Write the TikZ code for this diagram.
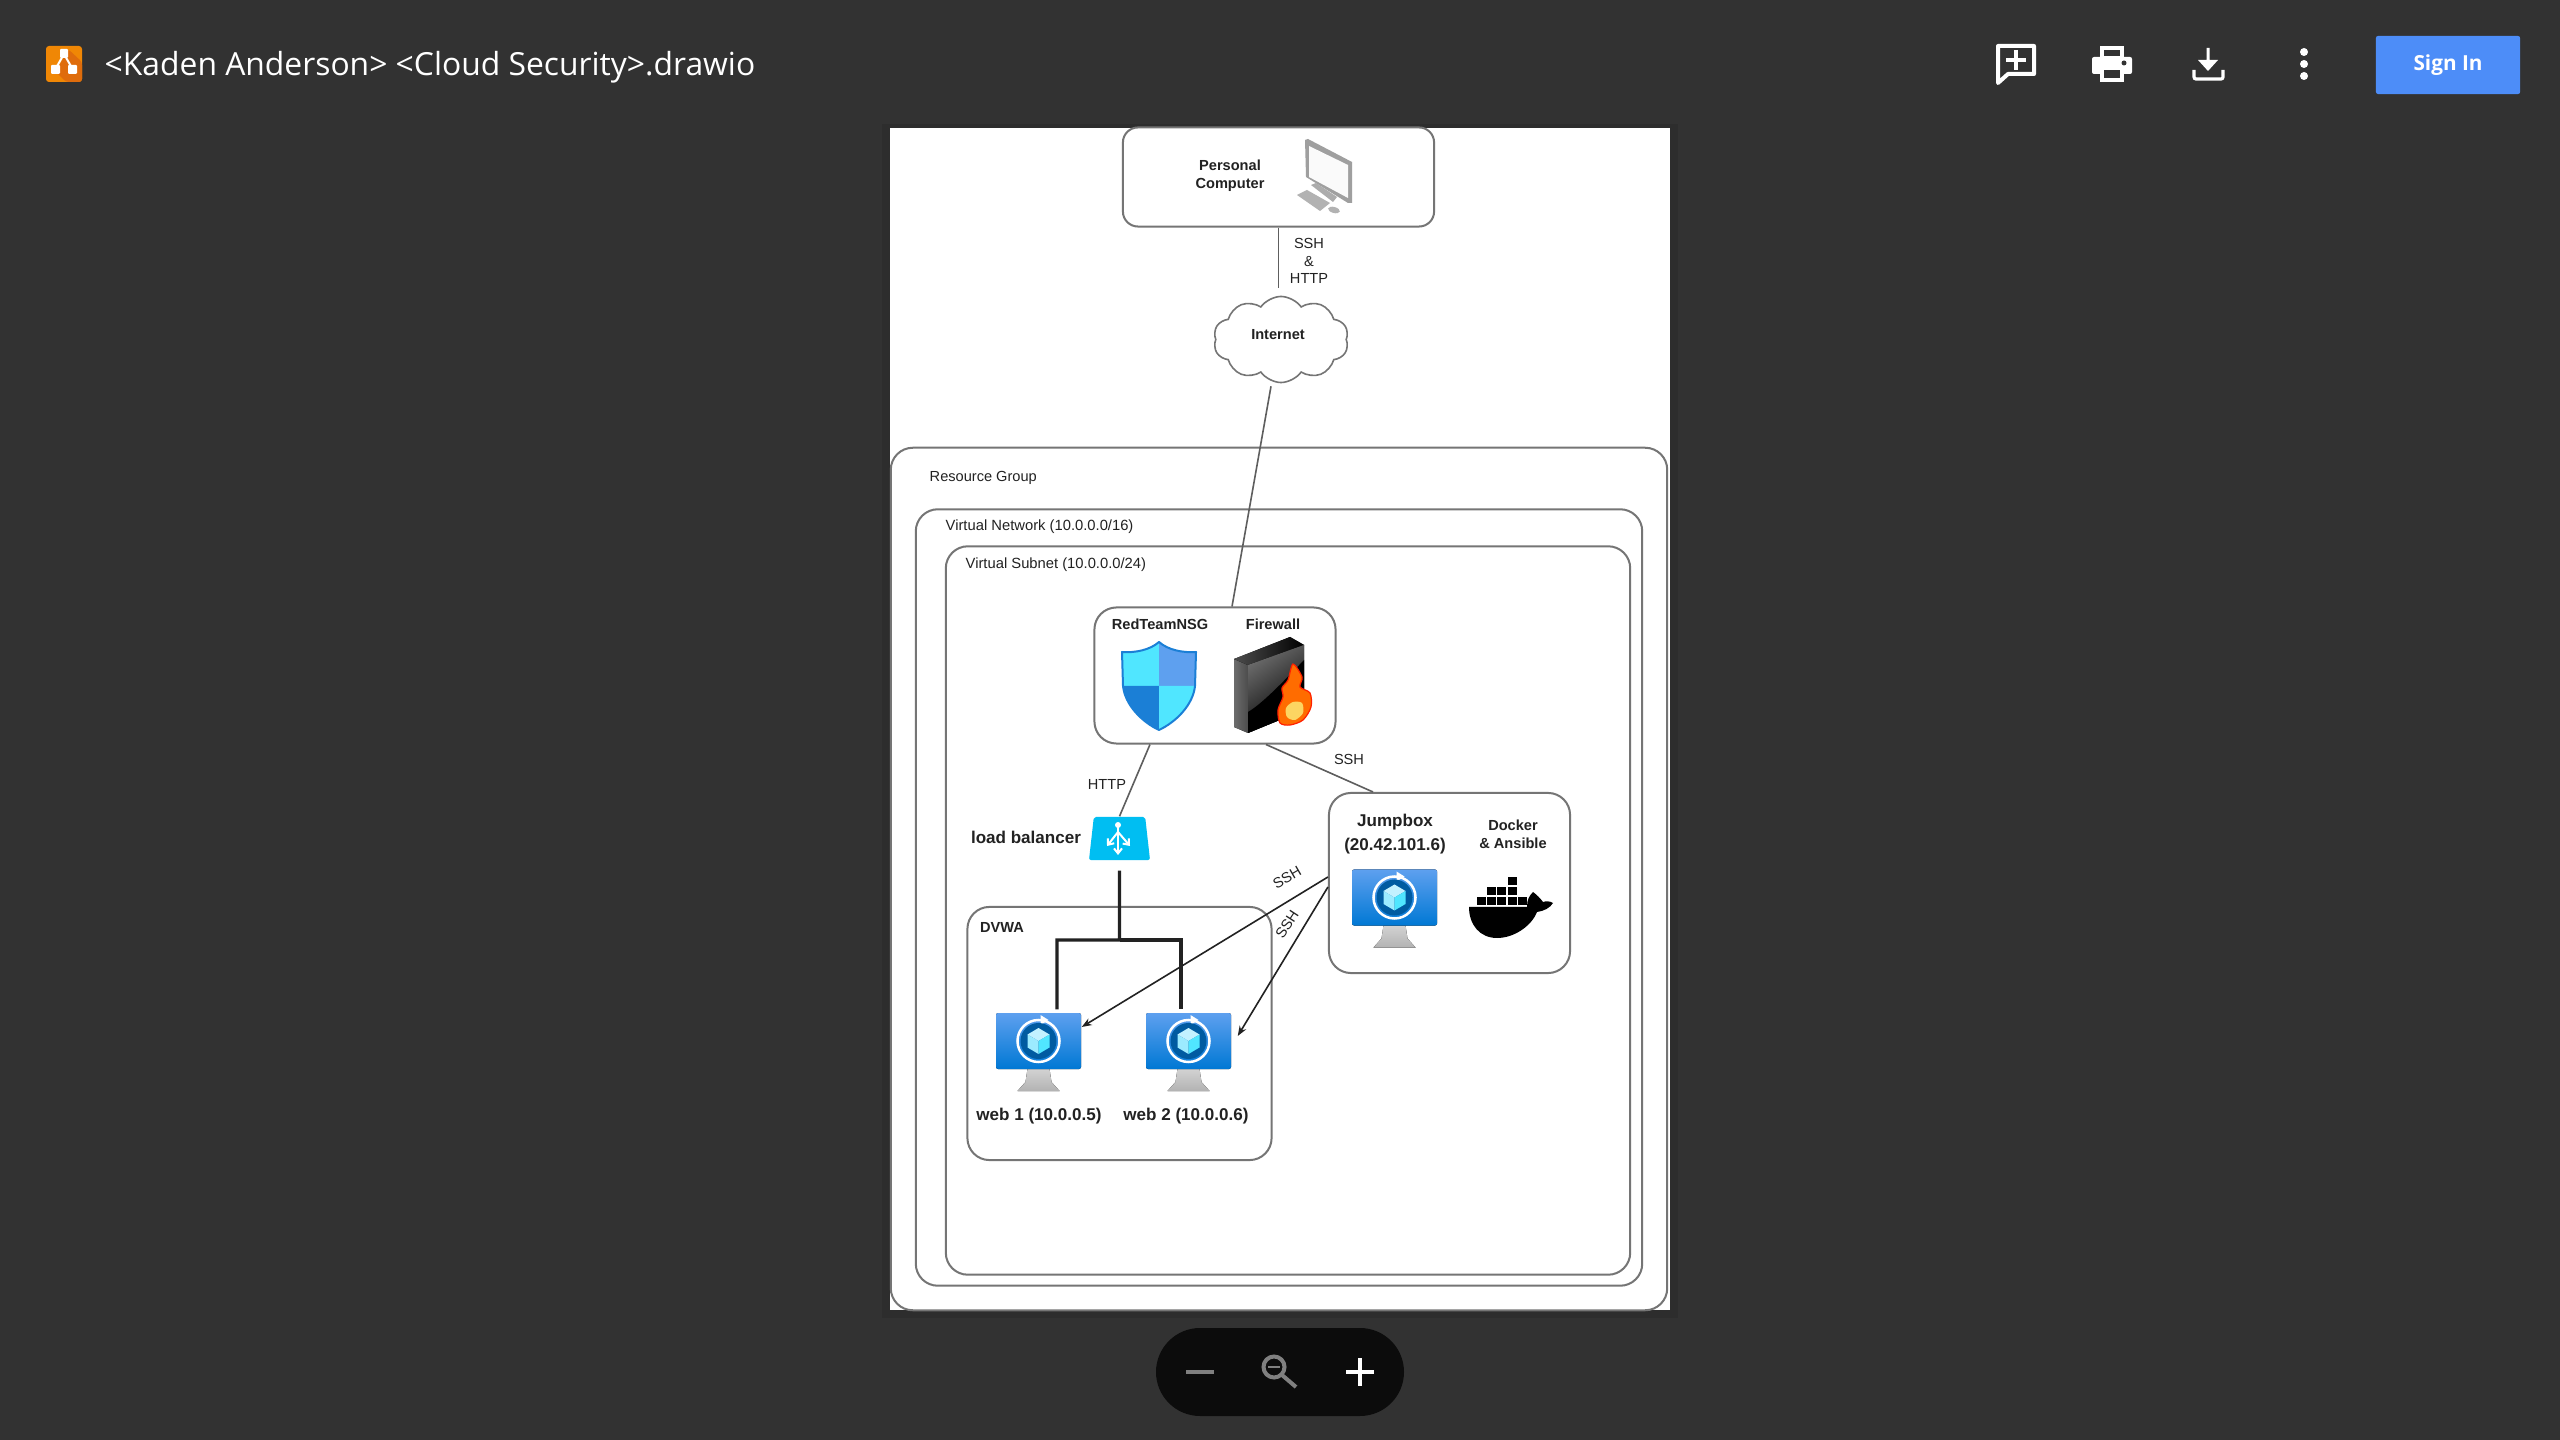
\documentclass[tikz,border=0pt]{standalone}
\usepackage{fontspec}
\setmainfont{Liberation Sans}
\newfontfamily\uifont{Open Sans}
\usetikzlibrary{shapes,arrows,arrows.meta,positioning,calc,shapes.geometric,shapes.symbols}

\definecolor{viewerbg}{HTML}{323232}
\definecolor{pageshade}{HTML}{2D2D2D}
\definecolor{pillbg}{HTML}{0C0C0C}
\definecolor{signblue}{HTML}{4D8DF8}
\definecolor{logoorange}{HTML}{F08705}
\definecolor{logoshade}{HTML}{DF6C0C}
\definecolor{edgegray}{HTML}{757575}
\definecolor{wiregray}{HTML}{5E5E5E}
\definecolor{inkgray}{HTML}{222222}
\definecolor{azuretop}{HTML}{5EA0EF}
\definecolor{azurelow}{HTML}{0078D4}
\definecolor{azuredark}{HTML}{005BA1}
\definecolor{azurecyan}{HTML}{50E6FF}
\definecolor{azurepale}{HTML}{C3F1FF}
\definecolor{azuremid}{HTML}{9CEBFF}
\definecolor{shieldlow}{HTML}{1B7FD6}
\definecolor{lbblue}{HTML}{00BEF2}

\tikzset{
    vmicon/.pic={
        \fill[top color=gray!35, bottom color=gray!60] (-11,17) -- (11,17) -- (13,30) -- (21,39) -- (-21,39) -- (-13,30) -- cycle;
        \fill[top color=azuretop, bottom color=azurelow, rounded corners=0.02cm] (-42.5,-39) rectangle (42.5,17);
        \draw[white, line width=0.025cm] (0,-11) circle[radius=0.21cm];
        \fill[white] (2,-37) -- (10,-32) -- (2,-27) -- cycle;
        \fill[azuredark] (0,-11) circle[radius=0.18cm];
        \fill[azurepale] (0,-24) -- (11,-17.5) -- (0,-11) -- (-11,-17.5) -- cycle;
        \fill[azuremid] (-11,-17.5) -- (0,-11) -- (0,2) -- (-11,-4.5) -- cycle;
        \fill[azurecyan] (11,-17.5) -- (0,-11) -- (0,2) -- (11,-4.5) -- cycle;
    }
}

\begin{document}
\begin{tikzpicture}[
    x=0.01cm, y=-0.01cm,
    box/.style={draw=edgegray, line width=0.02cm, rounded corners=0.22cm, inner sep=0pt},
    smalltext/.style={text=inkgray, inner sep=0pt, align=center, font=\fontsize{4.15}{5}\selectfont},
    boldtext/.style={smalltext, font=\fontsize{4.15}{5}\selectfont\bfseries},
    bigtext/.style={smalltext, font=\fontsize{4.85}{5.6}\selectfont\bfseries},
    link/.style={draw=wiregray, line width=0.016cm},
    arrow/.style={link, draw=inkgray, -{Stealth[length=0.1cm,width=0.075cm]}},
    bus/.style={draw=inkgray, line width=0.032cm},
    vmslot/.style={minimum width=0.85cm, minimum height=0.78cm, inner sep=0pt},
    glyph/.style={draw=white, line width=0.04cm}
]

\useasboundingbox[fill=viewerbg] (0,0) rectangle (2560,1440);
\fill[pageshade] (882,124) rectangle (1678,1318);
\fill[white] (890,128) rectangle (1670,1310);

% viewer header
\fill[logoorange, rounded corners=0.03cm] (46,46) rectangle (82,82);
\fill[logoshade, rounded corners=0.03cm] (68,49) -- (82,62) -- (82,82) -- (66,82) -- (56,72) -- cycle;
\draw[white, line width=0.02cm] (56,68) -- (64,54) -- (72,68);
\fill[white, rounded corners=0.01cm] (60,49) rectangle (68,58) (51,65) rectangle (60,74) (68,65) rectangle (77,74);
\node[anchor=west, text=white, inner sep=0pt, font=\uifont\fontsize{9.05}{11}\selectfont] (title) at (104,67) {<Kaden Anderson> <Cloud Security>.drawio};

\draw[glyph, line join=round] (1998,46) -- (2034,46) -- (2034,74) -- (2008,74) -- (1998,83) -- cycle;
\draw[glyph] (2016,50) -- (2016,70) (2006,60) -- (2026,60);

\fill[white, rounded corners=0.02cm] (2092,57) rectangle (2132,74);
\draw[glyph] (2102,48) rectangle (2122,58) (2102,68) rectangle (2122,80);
\fill[viewerbg] (2104,70) rectangle (2120,78);
\fill[viewerbg] (2124,63) circle[radius=0.025cm];

\fill[white] (2206.5,48) rectangle (2209.5,62) (2198,60) -- (2208,71) -- (2218,60) -- cycle;
\draw[white, line width=0.032cm, rounded corners=0.02cm] (2194,70) -- (2194,79) -- (2223,79) -- (2223,70);

\fill[white] (2304,52) circle[radius=0.04cm] (2304,64) circle[radius=0.04cm] (2304,76) circle[radius=0.04cm];

\node[fill=signblue, rounded corners=0.02cm, minimum width=1.44cm, minimum height=0.58cm, text=white, inner sep=0pt, font=\uifont\bfseries\fontsize{5.9}{7}\selectfont] (signin) at (2448,65) {\raisebox{-1pt}{Sign In}};

% zoom controls
\fill[pillbg, rounded corners=0.44cm] (1156,1328) rectangle (1404,1416);
\draw[draw=gray, line width=0.045cm] (1186,1372) -- (1214,1372);
\draw[draw=gray, line width=0.04cm] (1274,1367) circle[radius=0.105cm] (1282,1375) -- (1296,1387);
\draw[draw=gray, line width=0.025cm] (1268,1367) -- (1280,1367);
\draw[draw=white, line width=0.042cm] (1346,1372) -- (1374,1372) (1360,1358) -- (1360,1386);

% nested groups
\node[box, minimum width=7.76cm, minimum height=8.62cm] (resourcegroup) at (1279,879) {};
\node[box, minimum width=7.26cm, minimum height=7.76cm] (vnet) at (1279,897.5) {};
\node[box, minimum width=6.84cm, minimum height=7.28cm] (subnet) at (1288,910.5) {};
\node[smalltext, anchor=west] (resourcetext) at (929,478) {Resource Group};
\node[smalltext, anchor=west, font=\fontsize{4.2}{5}\selectfont] (vnettext) at (945,526.5) {Virtual Network (10.0.0.0/16)};
\node[smalltext, anchor=west, font=\fontsize{4.2}{5}\selectfont] (subnettext) at (965,564.5) {Virtual Subnet (10.0.0.0/24)};

\node[box, rounded corners=0.15cm, minimum width=3.11cm, minimum height=0.99cm] (pc) at (1278.5,177) {};
\node[boldtext] (pctext) at (1230,175.5) {Personal\\Computer};

\node[cloud, draw=edgegray, line width=0.016cm, cloud puffs=10, cloud puff arc=110, aspect=1.6, minimum width=1.35cm, minimum height=0.86cm, inner sep=0pt] (internet) at (1281,339.5) {};
\node[boldtext] (internettext) at (1278,334.5) {Internet};

\node[box, minimum width=2.41cm, minimum height=1.36cm] (nsg) at (1215,675.5) {};
\node[boldtext] (nsgtext) at (1160,624) {RedTeamNSG};
\node[boldtext] (firewalltext) at (1273,624) {Firewall};

\node[box, minimum width=2.41cm, minimum height=1.8cm] (jumpbox) at (1449.5,883) {};
\node[bigtext] (jumptext) at (1395,834) {Jumpbox\\[1.2pt](20.42.101.6)};
\node[boldtext] (dockertext) at (1513,834) {Docker\\\& Ansible};

\node[box, minimum width=3.04cm, minimum height=2.53cm] (dvwa) at (1119.5,1033.5) {};
\node[boldtext] (dvwatext) at (1002,927.5) {DVWA};

\node[vmslot] (jumpvm) at (1394.5,908.5) {};
\node[vmslot] (web1) at (1038.5,1052) {};
\node[vmslot] (web2) at (1188.5,1052) {};
\pic at (jumpvm) {vmicon};
\pic at (web1) {vmicon};
\pic at (web2) {vmicon};
\node[bigtext] (web1text) at (1039,1116.5) {web 1 (10.0.0.5)};
\node[bigtext] (web2text) at (1186,1116.5) {web 2 (10.0.0.6)};

\node[trapezium, fill=lbblue, trapezium left angle=82, trapezium right angle=82, trapezium stretches=true, rounded corners=0.02cm, minimum width=0.61cm, minimum height=0.43cm, inner sep=0pt] (balancer) at (1119.5,838.5) {\phantom{\rule{0.3cm}{0.2cm}}};
\node[bigtext] (balancertext) at (1026,837) {load balancer};
\draw[white, line width=0.02cm, -{Straight Barb[length=0.05cm,width=0.08cm]}] (1118,826) -- (1118,855);
\draw[white, line width=0.02cm, -{Straight Barb[length=0.05cm,width=0.08cm]}] (1118,832) -- (1107,846);
\draw[white, line width=0.02cm, -{Straight Barb[length=0.05cm,width=0.08cm]}] (1118,832) -- (1130,846);
\fill[white] (1118,825) circle[radius=0.03cm];

% computer
\fill[gray!75] (1305,140) -- (1308,139) -- (1352,162) -- (1352,203) -- (1348,203) -- (1306,177) -- cycle;
\fill[white!96!gray] (1309,146) -- (1348,165) -- (1348,198) -- (1309,177) -- cycle;
\fill[gray!65] (1311,185) -- (1316,183) -- (1337,197) -- (1333,202) -- cycle;
\fill[gray!60] (1297,195) -- (1307,190) -- (1330,203) -- (1320,211) -- cycle;
\fill[gray!60, rotate around={-15:(1334,210)}] (1334,210) ellipse[x radius=0.06cm, y radius=0.03cm];

% shield
\fill[azurecyan] (1159,642) .. controls (1150,650) and (1135,653) .. (1122,652) -- (1123,686) -- (1159,686) -- cycle;
\fill[azuretop] (1159,642) .. controls (1168,650) and (1183,653) .. (1196,652) -- (1195,686) -- (1159,686) -- cycle;
\fill[shieldlow] (1123,686) .. controls (1125,705) and (1142,722) .. (1159,730) -- (1159,686) -- cycle;
\fill[azurecyan] (1195,686) .. controls (1193,705) and (1176,722) .. (1159,730) -- (1159,686) -- cycle;
\draw[shieldlow, line width=0.02cm, line join=round] (1159,642) .. controls (1150,650) and (1135,653) .. (1122,652) -- (1123,686) .. controls (1125,705) and (1142,722) .. (1159,730) .. controls (1176,722) and (1193,705) .. (1195,686) -- (1196,652) .. controls (1183,653) and (1168,650) .. (1159,642) -- cycle;

% firewall
\fill[left color=gray!85!black, right color=gray!60!black] (1234,659) -- (1248,665) -- (1248,733) -- (1234,727) -- cycle;
\fill[left color=black!70, right color=black] (1234,659) -- (1290,637) -- (1304,645) -- (1248,665) -- cycle;
\fill[shading=axis, left color=gray!85!black, right color=black, shading angle=35] (1248,665) -- (1304,645) -- (1304,710) -- (1248,733) -- cycle;
\fill[black] (1248,733) -- (1248,712) .. controls (1262,704) and (1285,680) .. (1304,660) -- (1304,710) -- cycle;
\fill[orange!85!red, draw=red!75!orange, line width=0.012cm] plot[smooth cycle] coordinates {(1280,723) (1278,710) (1283,697) (1282,688) (1288,680) (1293,664) (1302,677) (1300,687) (1310,693) (1311,707) (1303,720) (1290,725)};
\fill[yellow!50!orange!60] plot[smooth cycle] coordinates {(1287,717) (1286,708) (1293,702) (1302,703) (1303,713) (1295,720)};

% docker
\foreach \cratex/\cratey in {1477/897, 1487/897, 1497/897, 1508/897, 1518/897, 1487/887, 1497/887, 1508/887, 1508/877} {
    \fill[black] (\cratex,\cratey) rectangle ++(8.5,8.5);
}
\fill[black] (1469,907) -- (1527,907) .. controls (1527,900) and (1529,896) .. (1533,892) .. controls (1537,895) and (1540,898) .. (1543,902) .. controls (1546,901) and (1550,901) .. (1553,903) .. controls (1550,908) and (1544,911) .. (1537,912) .. controls (1532,925) and (1515,938) .. (1497,938) .. controls (1480,938) and (1469,925) .. (1469,907) -- cycle;

% connectors
\coordinate (busjoin) at (1119.5,940);
\draw[link] (pc.south) -- ([yshift=-0.6cm]pc.south);
\node[smalltext] (pclinktext) at (1309,261) {SSH\\\&\\HTTP};
\draw[link] ([xshift=-0.1cm,yshift=-0.03cm]internet.south) -- ([xshift=0.17cm]nsg.north);
\draw[link] ([xshift=-0.65cm]nsg.south) -- (balancer.north);
\node[smalltext] (httptext) at (1107,784) {HTTP};
\draw[link] ([xshift=0.51cm]nsg.south) -- ([xshift=-0.765cm]jumpbox.north);
\node[smalltext] (nsgsshtext) at (1349,759.5) {SSH};
\draw[bus] ([yshift=-0.1cm]balancer.south) -- (busjoin) -| ([xshift=0.185cm,yshift=0.03cm]web1.north);
\draw[bus] (busjoin) -| ([xshift=-0.075cm,yshift=0.03cm]web2.north);
\draw[arrow] ([yshift=0.06cm]jumpbox.west) -- ([yshift=0.25cm]web1.east);
\draw[arrow] ([yshift=-0.04cm]jumpbox.west) -- ([xshift=0.06cm,yshift=0.16cm]web2.east);
\node[smalltext, rotate=30] (web1ssh) at (1287,877.5) {SSH};
\node[smalltext, rotate=57] (web2ssh) at (1287,924.5) {SSH};

\end{tikzpicture}
\end{document}
